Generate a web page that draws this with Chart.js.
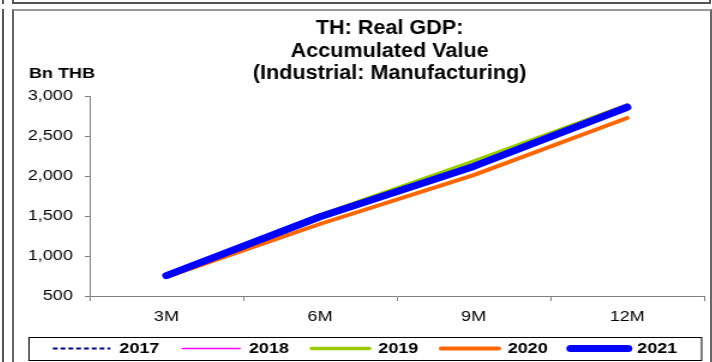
<!DOCTYPE html>
<html><head><meta charset="utf-8">
<script src="https://cdn.jsdelivr.net/npm/chart.js@4"></script>
<style>
html,body{margin:0;padding:0;background:#fff;width:712px;height:362px;overflow:hidden;position:relative}
.ln{position:absolute;background:#555}
#panel{position:absolute;left:12px;top:9px;width:700px;height:360px;box-sizing:border-box;border-left:2px solid #666;border-top:2px solid #999;border-right:2px solid #666}
#wrap{position:absolute;left:14px;top:12px;width:580px;height:354px;transform:scaleX(1.2);transform-origin:0 0}
</style></head>
<body>
<div class="ln" style="left:2px;top:0;width:2px;height:4px"></div>
<div class="ln" style="left:2px;top:9px;width:2px;height:353px"></div>
<div class="ln" style="left:12px;top:0;width:2px;height:4px"></div>
<div class="ln" style="left:12px;top:2px;width:699px;height:2px"></div>
<div class="ln" style="left:709px;top:0;width:2px;height:4px"></div>
<div id="panel"></div>
<div id="wrap"><canvas id="c"></canvas></div>
<script>
const categories = ['3M', '6M', '9M', '12M'];
const years = ['2017', '2018', '2019', '2020', '2021'];
const v2017 = [730, 1505, 2140, 2850];
const v2018 = [745, 1495, 2185, 2900];
const v2019 = [745, 1510, 2185, 2885];
const v2020 = [740, 1400, 2010, 2725];
const v2021 = [755, 1490, 2120, 2860];
const yTicks = [500, 1000, 1500, 2000, 2500, 3000];
const titleLines = ['TH: Real GDP:', 'Accumulated Value', '(Industrial: Manufacturing)'];
const unitLabel = 'Bn THB';

const seriesValues = [v2017, v2018, v2019, v2020, v2021];
const styles = [
  {c: '#000080', w: 2, dash: [4, 2.5], cap: 'butt'},
  {c: '#FF00FF', w: 1.5, dash: [], cap: 'round'},
  {c: '#99CC00', w: 3.5, dash: [], cap: 'round'},
  {c: '#FF6600', w: 4, dash: [], cap: 'round'},
  {c: '#0000FF', w: 7, dash: [], cap: 'round'}
];

Chart.defaults.font.family = "'Liberation Sans', Arial, sans-serif";
Chart.defaults.color = '#000';

const decor = {
  id: 'decor',
  afterDraw(chart) {
    const ctx = chart.ctx;
    ctx.save();
    ctx.fillStyle = '#000';
    ctx.textAlign = 'center';
    ctx.textBaseline = 'middle';
    ctx.font = "bold 20px 'Liberation Sans', Arial, sans-serif";
    const ty = [16, 39, 61];
    titleLines.forEach((t, i) => {
      ctx.save();
      ctx.translate(313, ty[i]);
      ctx.scale(0.9, 1);
      ctx.fillText(t, 0, 0);
      ctx.restore();
    });
    ctx.textAlign = 'left';
    ctx.font = "bold 15px 'Liberation Sans', Arial, sans-serif";
    ctx.fillText(unitLabel, 12.5, 62);
    const hb = chart.legend.legendHitBoxes;
    if (hb && hb.length) {
      const cy = hb[0].top + 7.5;
      ctx.strokeStyle = '#000';
      ctx.lineWidth = 1;
      ctx.strokeRect(12.5, Math.round(cy - 12) + 0.5, 560.5, 23);
    }
    ctx.restore();
  }
};

new Chart(document.getElementById('c'), {
  type: 'line',
  data: {
    labels: categories,
    datasets: years.map((y, i) => ({
      label: y,
      data: seriesValues[i],
      borderColor: styles[i].c,
      backgroundColor: styles[i].c,
      borderWidth: styles[i].w,
      borderDash: styles[i].dash,
      borderCapStyle: styles[i].cap,
      borderJoinStyle: 'round',
      pointRadius: 0,
      pointHoverRadius: 0,
      tension: 0,
      fill: false,
      order: years.length - i
    }))
  },
  options: {
    responsive: true,
    maintainAspectRatio: false,
    animation: false,
    layout: {padding: {left: 10, right: 5, top: 84, bottom: 0}},
    plugins: {
      title: {display: false},
      tooltip: {enabled: false},
      legend: {
        position: 'bottom',
        labels: {
          usePointStyle: true,
          pointStyle: 'line',
          pointStyleWidth: 48,
          boxHeight: 15,
          padding: 19,
          font: {size: 15, weight: 'bold'},
          color: '#000',
          sort: (a, b) => a.datasetIndex - b.datasetIndex,
          generateLabels: chart => {
            const items = Chart.defaults.plugins.legend.labels.generateLabels(chart);
            return items.map(it => {
              const ds = chart.data.datasets[it.datasetIndex];
              it.lineDash = ds.borderDash;
              it.lineCap = ds.borderCapStyle;
              it.lineWidth = ds.borderWidth;
              it.strokeStyle = ds.borderColor;
              return it;
            });
          }
        }
      }
    },
    scales: {
      x: {
        offset: true,
        grid: {offset: true, drawOnChartArea: false, drawTicks: true, tickLength: 5, color: '#808080'},
        border: {display: true, color: '#808080', width: 1},
        ticks: {font: {size: 15}, color: '#000', padding: 7, maxRotation: 0},
        afterFit: s => { s.height = 26; }
      },
      y: {
        min: 500,
        max: 3000,
        grid: {drawOnChartArea: false, drawTicks: true, tickLength: 4, color: '#808080'},
        border: {display: true, color: '#808080', width: 1},
        ticks: {font: {size: 15}, color: '#000', padding: 10, stepSize: 500},
        afterBuildTicks: s => { s.ticks = yTicks.map(v => ({value: v})); },
        afterFit: s => { s.width = 53; }
      }
    }
  },
  plugins: [decor]
});
</script>
</body></html>
